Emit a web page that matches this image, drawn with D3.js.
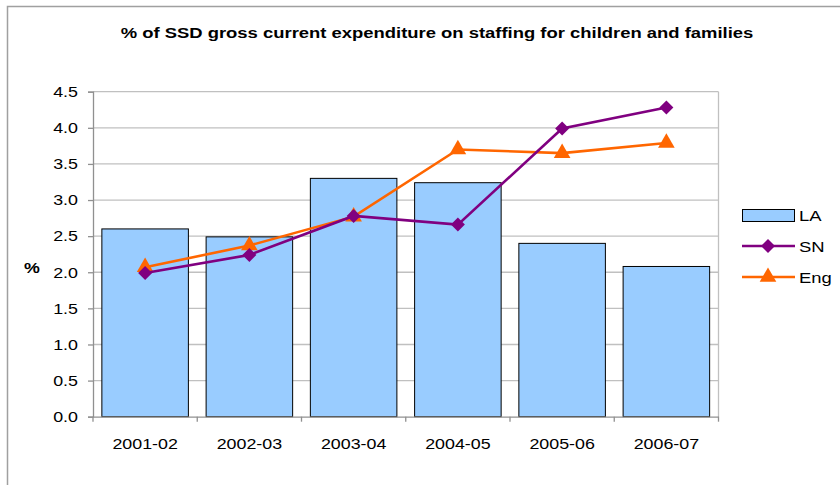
<!DOCTYPE html>
<html><head><meta charset="utf-8">
<script src="https://cdn.jsdelivr.net/npm/d3@7"></script>
<style>body{margin:0;background:#fff;}svg{display:block;font-family:Arial,"Liberation Sans",sans-serif;}</style>
</head><body><svg id="c" width="840" height="485"></svg>
<script>
const categories = ["2001-02","2002-03","2003-04","2004-05","2005-06","2006-07"];
const laValues = [2.6, 2.49, 3.3, 3.24, 2.4, 2.08];
const snValues = [1.99, 2.24, 2.78, 2.66, 3.99, 4.28];
const engValues = [2.07, 2.37, 2.77, 3.70, 3.65, 3.79];
const yTicks = [0,0.5,1,1.5,2,2.5,3,3.5,4,4.5];

const SX = 1.19;
function stretch(sel){
  sel.each(function(){
    const t = d3.select(this);
    const x0 = +(t.attr("x")||0), y0 = +(t.attr("y")||0);
    t.attr("x",0).attr("y",0).attr("transform",`translate(${x0},${y0}) scale(${SX},1)`);
  });
}

const svg = d3.select("#c");
const L=93, R=718.5, T=91.7, B=416.7;
svg.append("rect").attr("x",7.5).attr("y",6.5).attr("width",840).attr("height",490)
  .attr("fill","none").attr("stroke","#a0a0a0").attr("stroke-width",1.5);
svg.append("text").attr("x",437).attr("y",38).attr("text-anchor","middle")
  .attr("font-weight","bold").attr("font-size",15.5).text("% of SSD gross current expenditure on staffing for children and families")
  .call(stretch);

const x = d3.scaleBand().domain(categories).range([L,R]).paddingInner(0.17).paddingOuter(0.085);
const xc = d3.scaleBand().domain(categories).range([L,R]);
const y = d3.scaleLinear().domain([0,4.5]).range([B,T]);

svg.append("g").selectAll("line").data(yTicks.filter(d=>d>0)).join("line")
  .attr("x1",L).attr("x2",R).attr("y1",d=>y(d)).attr("y2",d=>y(d))
  .attr("stroke","#c0c0c0").attr("stroke-width",1.3);
svg.append("line").attr("x1",R).attr("x2",R).attr("y1",T).attr("y2",B).attr("stroke","#c0c0c0").attr("stroke-width",1.3);

svg.append("g").selectAll("rect").data(laValues).join("rect")
  .attr("x",(d,i)=>x(categories[i])).attr("width",x.bandwidth())
  .attr("y",d=>y(d)).attr("height",d=>B-y(d))
  .attr("fill","#99ccff").attr("stroke","#000").attr("stroke-width",1);

const ya = svg.append("g").attr("transform",`translate(${L},0)`)
  .call(d3.axisLeft(y).tickValues(yTicks).tickFormat(d3.format(".1f")).tickSize(5).tickPadding(10));
ya.select(".domain").attr("stroke","#909090").attr("stroke-width",1.3);
ya.selectAll(".tick line").attr("stroke","#909090").attr("stroke-width",1.3);
ya.selectAll("text").attr("font-size",15).attr("fill","#000").attr("font-family","Arial, Liberation Sans, sans-serif").call(stretch);

const xa = svg.append("g").attr("transform",`translate(0,${B})`)
  .call(d3.axisBottom(xc).tickSize(0).tickPadding(22));
xa.select(".domain").attr("stroke","#909090").attr("stroke-width",1.3);
xa.selectAll("text").attr("font-size",15).attr("fill","#000").attr("font-family","Arial, Liberation Sans, sans-serif").call(stretch);
svg.append("g").selectAll("line").data(d3.range(categories.length+1)).join("line")
  .attr("x1",i=>L+i*xc.step()).attr("x2",i=>L+i*xc.step()).attr("y1",B).attr("y2",B+5)
  .attr("stroke","#909090").attr("stroke-width",1.3);

svg.append("text").attr("x",32).attr("y",273).attr("text-anchor","middle").attr("font-weight","bold").attr("font-size",15).text("%").call(stretch);

const cx = c=>xc(c)+xc.bandwidth()/2;
const line = d3.line().x((d,i)=>cx(categories[i])).y(d=>y(d));
const dia = d3.symbol().type(d3.symbolSquare).size(98);
const tri = d3.symbol().type(d3.symbolTriangle).size(120);
function series(vals,color,sym,rot){
  svg.append("path").datum(vals).attr("d",line).attr("fill","none").attr("stroke",color).attr("stroke-width",2.6);
  svg.append("g").selectAll("path").data(vals).join("path")
    .attr("transform",(d,i)=>`translate(${cx(categories[i])},${y(d)}) rotate(${rot})`).attr("d",sym).attr("fill",color);
}
series(engValues,"#ff6600",tri,0);
series(snValues,"#800080",dia,45);

const lg = svg.append("g");
lg.append("rect").attr("x",742.5).attr("y",209.5).attr("width",52).attr("height",12).attr("fill","#99ccff").attr("stroke","#000");
lg.append("text").attr("x",799).attr("y",221).attr("font-size",15.5).text("LA").call(stretch);
lg.append("line").attr("x1",742).attr("x2",795).attr("y1",246).attr("y2",246).attr("stroke","#800080").attr("stroke-width",2.6);
lg.append("path").attr("transform","translate(768,246) rotate(45)").attr("d",dia).attr("fill","#800080");
lg.append("text").attr("x",799).attr("y",252).attr("font-size",15.5).text("SN").call(stretch);
lg.append("line").attr("x1",742).attr("x2",795).attr("y1",277).attr("y2",277).attr("stroke","#ff6600").attr("stroke-width",2.6);
lg.append("path").attr("transform","translate(768,277)").attr("d",tri).attr("fill","#ff6600");
lg.append("text").attr("x",799).attr("y",283).attr("font-size",15.5).text("Eng").call(stretch);
</script></body></html>
